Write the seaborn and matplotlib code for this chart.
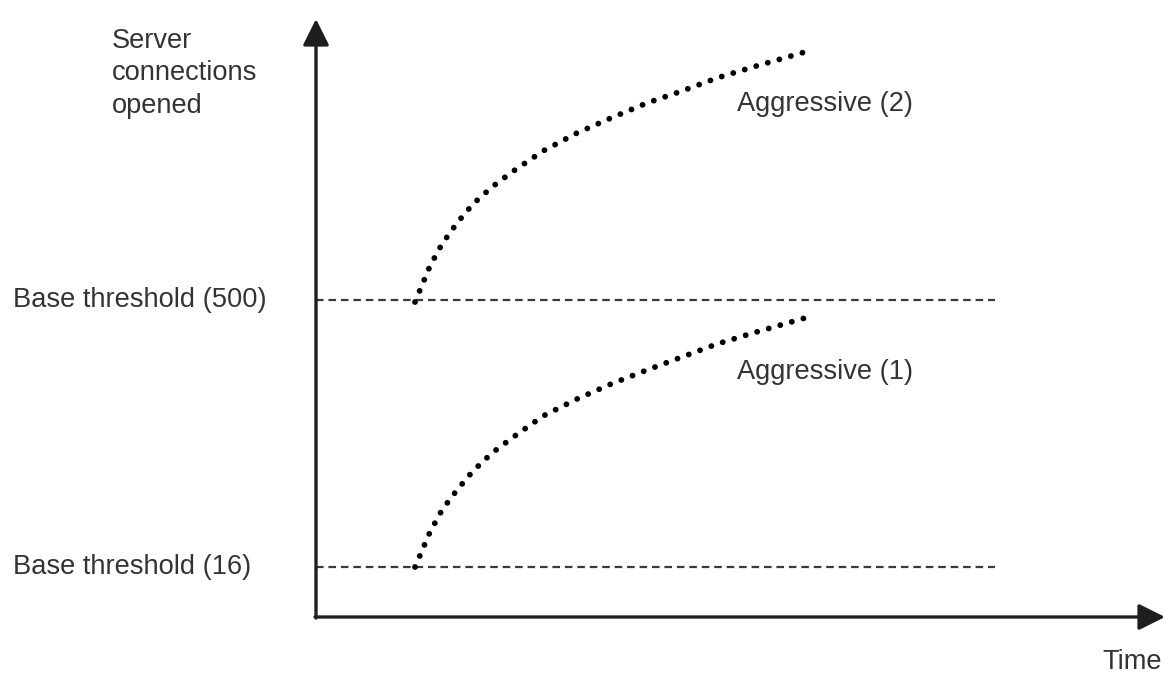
import matplotlib
matplotlib.use("Agg")
import matplotlib.pyplot as plt
import seaborn as sns
import pandas as pd

# values (chart units: origin where the two axes meet)
time_pts = [99, 114, 126, 141, 157, 176, 196, 227, 261, 295, 331, 366, 401, 437, 489]
aggressive_2 = [315, 351, 373, 394, 413, 430, 445, 466, 484, 499, 514, 526, 539, 550, 565]
aggressive_1 = [50, 85, 107, 127, 146, 164, 179, 201, 218, 233, 247, 260, 273, 284, 299]
threshold_levels = [317, 50]
threshold_labels = ["Base threshold (500)", "Base threshold (16)"]
threshold_span = [0, 679]
curve_labels = ["Aggressive (2)", "Aggressive (1)"]

sns.set_style("white")
plt.rcParams["font.family"] = ["Liberation Sans", "DejaVu Sans"]

ink = "#1e1e1e"
txt = "#333333"
fs = 19.6

fig = plt.figure(figsize=(11.65, 6.78), dpi=100)
ax = fig.add_axes([0, 0, 1, 1])
ax.set_xlim(-316, 849)
ax.set_ylim(-61, 617)
ax.axis("off")

# dashed base thresholds
for level, label in zip(threshold_levels, threshold_labels):
    df = pd.DataFrame({"t": threshold_span, "v": [level, level]})
    sns.lineplot(data=df, x="t", y="v", ax=ax, color="#3a3a3a", linewidth=1.6,
                 linestyle=(0, (3.4, 2.2)))
    ax.text(-303, level, label, va="center", ha="left", fontsize=fs, color=txt)

# dotted aggressive curves
curves = pd.DataFrame({
    "t": time_pts * 2,
    "v": aggressive_2 + aggressive_1,
    "mode": [curve_labels[0]] * len(time_pts) + [curve_labels[1]] * len(time_pts),
})
sns.lineplot(data=curves, x="t", y="v", units="mode", estimator=None, ax=ax,
             color="black", linewidth=4.2, linestyle=(0, (0.01, 2.05)),
             dash_capstyle="round", sort=False)

ax.text(421, aggressive_2[-1] - 52, curve_labels[0], va="center", ha="left",
        fontsize=fs, color=txt)
ax.text(421, aggressive_1[-1] - 54, curve_labels[1], va="center", ha="left",
        fontsize=fs, color=txt)

# axes with arrow heads
arrow = dict(arrowstyle="-|>,head_length=0.4,head_width=0.2", lw=2.4, color=ink,
             mutation_scale=40, shrinkA=0, shrinkB=0)
ax.annotate("", xy=(0, 598), xytext=(0, -1), arrowprops=arrow)
ax.annotate("", xy=(849, 0), xytext=(-1, 0), arrowprops=arrow)

ax.text(-204, 589, "Server\nconnections\nopened", va="top", ha="left",
        fontsize=fs, color=txt, linespacing=1.32)
ax.text(846, -45, "Time", va="center", ha="right", fontsize=fs, color=txt)

fig.savefig("out.png", dpi=100)
